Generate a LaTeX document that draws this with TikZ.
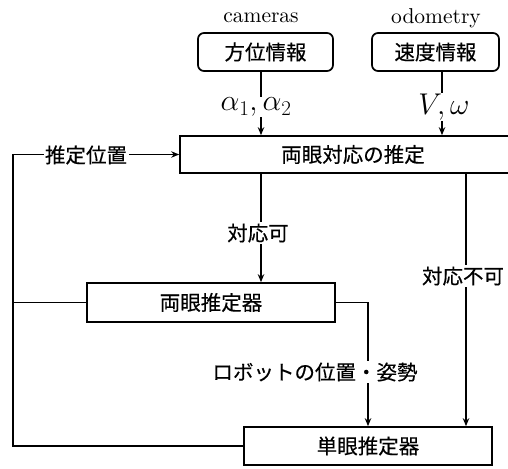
\RequirePackage{fix-cm}
\documentclass[tikz,border=0pt]{standalone}
\usepackage{fontspec}
\newfontfamily\jp[FakeBold=0.4]{Noto Sans CJK JP}
\newfontfamily\lat{lmroman10-regular.otf}
\usetikzlibrary{arrows.meta}
\begin{document}
\begin{tikzpicture}[x=1pt,y=-1pt,
  line width=1.7pt,
  >={Stealth[length=8pt,width=6.5pt]},
  box/.style={draw,rectangle,inner sep=0pt,font=\jp\fontsize{20.5}{22}\selectfont},
  rbox/.style={box,rounded corners=6pt},
  lbl/.style={fill=white,inner sep=1.5pt,font=\jp\fontsize{20.5}{22}\selectfont},
  lat/.style={inner sep=0pt,font=\lat\fontsize{21.5}{24}\selectfont},
  mth/.style={fill=white,inner sep=1pt,font=\fontsize{30}{32}\selectfont}]
\useasboundingbox (0,0) rectangle (508,468);
% coordinates of vertical connector lines
\coordinate (c1) at (261,0);
\coordinate (c2) at (442,0);
\coordinate (c3) at (466,0);
\coordinate (c4) at (368,0);
\coordinate (lx) at (13,0);
% nodes
\node[lat] (camt) at (261,18) {cameras};
\node[lat] (odot) at (436,18) {odometry};
\node[rbox,minimum width=135pt,minimum height=38pt] (cam) at (265.5,52) {方位情報};
\node[rbox,minimum width=127pt,minimum height=38pt] (odo) at (435.5,52) {速度情報};
\node[box,minimum width=346pt,minimum height=37pt] (main) at (353,154.5) {両眼対応の推定};
\node[box,minimum width=248pt,minimum height=39pt] (bin) at (211,302.5) {両眼推定器};
\node[box,minimum width=248pt,minimum height=38pt] (mono) at (368,446) {単眼推定器};
% connectors
\draw[->] (cam.south -| c1) -- (main.north -| c1);
\draw[->] (odo.south -| c2) -- (main.north -| c2);
\draw[->] (main.south -| c1) -- (bin.north -| c1);
\draw[->] (main.south -| c3) -- (mono.north -| c3);
\draw[->] (bin.east) -| (mono.north -| c4);
\draw (bin.west) -- (bin.west -| lx);
\draw[->] (mono.west) -| (main.west -| lx) -- (main.west);
% labels
\node[mth] (a12) at (256,107) {$\alpha_1,\alpha_2$};
\node[mth] (vw) at (444,107) {$V,\omega$};
\node[lbl] (l1) at (258,233) {対応可};
\node[lbl] (l2) at (463,276) {対応不可};
\node[lbl] (l3) at (315,372) {ロボットの位置・姿勢};
\node[lbl] (l4) at (86,155) {推定位置};
\end{tikzpicture}
\end{document}
